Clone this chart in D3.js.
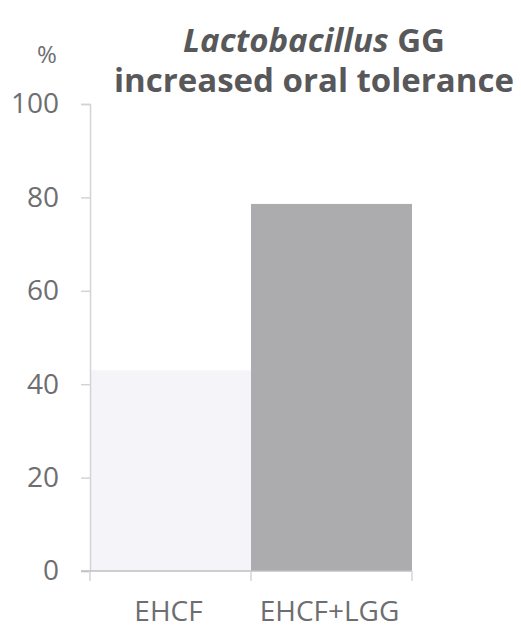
<!DOCTYPE html>
<html>
<head>
<meta charset="utf-8">
<script src="https://cdn.jsdelivr.net/npm/d3@7/dist/d3.min.js"></script>
<style>
  html, body { margin: 0; padding: 0; background: #ffffff; }
  svg { display: block; }
  text { font-family: "Open Sans", "Lato", sans-serif; }
</style>
</head>
<body>
<svg id="chart" width="521" height="628"></svg>
<script>
// Share of infants who acquired oral tolerance, by formula group
const categories = ["EHCF", "EHCF+LGG"];
const values = [43, 78.6];
const barColors = ["#f5f5f9", "#acacaf"];
const yTicks = [0, 20, 40, 60, 80, 100];

const svg = d3.select("#chart");
const margin = { left: 90, right: 109, top: 104, bottom: 57 };
const W = 521, H = 628;

const x = d3.scaleBand()
  .domain(categories)
  .range([margin.left, W - margin.right])
  .paddingInner(0)
  .paddingOuter(0);

const y = d3.scaleLinear()
  .domain([0, 100])
  .range([H - margin.bottom, margin.top]);

const axisColor = "#d4d4d6";
const textColor = "#6e6e70";

// Bars
svg.append("g")
  .selectAll("rect")
  .data(categories)
  .join("rect")
  .attr("x", d => x(d))
  .attr("width", x.bandwidth())
  .attr("y", (d, i) => y(values[i]))
  .attr("height", (d, i) => y(0) - y(values[i]))
  .attr("fill", (d, i) => barColors[i]);

// Y axis
const yAxis = svg.append("g")
  .attr("transform", `translate(${margin.left},0)`)
  .call(d3.axisLeft(y).tickValues(yTicks).tickSize(9).tickPadding(22));
yAxis.select(".domain").attr("stroke", axisColor).attr("stroke-width", 1.5);
yAxis.selectAll(".tick line").attr("stroke", axisColor).attr("stroke-width", 1.5);
yAxis.selectAll(".tick text")
  .attr("fill", textColor)
  .style("font-size", "28px")
  .style("font-family", "'Open Sans', sans-serif");

// X axis: baseline plus separators between categories
const x0 = x.range()[0], x1 = x.range()[1];
const xAxis = svg.append("g").attr("transform", `translate(0,${y(0)})`);
xAxis.append("line")
  .attr("x1", margin.left - 9).attr("x2", x1)
  .attr("stroke", "#bfbfc2").attr("stroke-width", 1.5);
const seps = [x0].concat(categories.map(c => x(c) + x.bandwidth()));
xAxis.selectAll("line.sep")
  .data(seps)
  .join("line")
  .attr("class", "sep")
  .attr("x1", d => d).attr("x2", d => d)
  .attr("y1", 0).attr("y2", 10)
  .attr("stroke", axisColor).attr("stroke-width", 1.5);
xAxis.selectAll("text.cat")
  .data(categories)
  .join("text")
  .attr("class", "cat")
  .attr("x", d => x(d) + x.bandwidth() / 2 - 2)
  .attr("y", 50)
  .attr("text-anchor", "middle")
  .attr("fill", textColor)
  .style("font-size", "28px")
  .text(d => d);

// Unit label
svg.append("text")
  .attr("x", 47).attr("y", 63)
  .attr("text-anchor", "middle")
  .attr("fill", textColor)
  .style("font-size", "24px")
  .text("%");

// Title
const title = svg.append("text")
  .attr("text-anchor", "middle")
  .attr("fill", "#58585a")
  .style("font-weight", "bold")
  .style("font-size", "33px");
const l1 = title.append("tspan").attr("x", 314).attr("y", 52);
l1.append("tspan").style("font-style", "italic").text("Lactobacillus");
l1.append("tspan").text(" GG");
title.append("tspan").attr("x", 314).attr("y", 92).text("increased oral tolerance");
</script>
</body>
</html>
